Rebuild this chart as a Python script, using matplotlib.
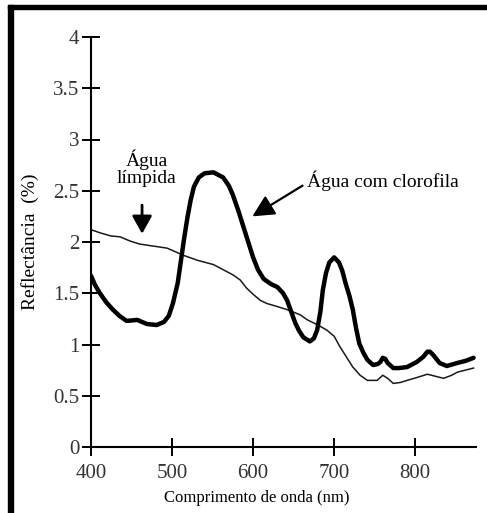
import matplotlib
matplotlib.use("Agg")
import matplotlib.pyplot as plt
from matplotlib.patches import Rectangle

# reflectance curves (wavelength nm, reflectance %)
clear_nm = [400, 411, 424, 436, 448, 460, 477, 494, 514, 532, 551, 563, 575, 584,
            592, 600, 609, 617, 630, 642, 658, 667, 680, 691, 700, 707, 715, 723,
            732, 741, 753, 760, 766, 773, 782, 790, 803, 815, 825, 835, 845, 852,
            862, 872]
clear_refl = [2.12, 2.09, 2.06, 2.05, 2.01, 1.98, 1.96, 1.94, 1.87, 1.82, 1.78, 1.73,
              1.68, 1.63, 1.55, 1.49, 1.43, 1.40, 1.37, 1.34, 1.29, 1.24, 1.19, 1.14,
              1.08, 0.98, 0.88, 0.78, 0.70, 0.65, 0.65, 0.70, 0.67, 0.62, 0.63, 0.65,
              0.68, 0.71, 0.69, 0.67, 0.70, 0.73, 0.75, 0.77]

chl_nm = [400, 405, 411, 419, 427, 435, 444, 457, 469, 481, 490, 496, 501, 507, 511,
          515, 519, 523, 527, 533, 540, 551, 563, 570, 575, 582, 588, 594, 600, 606,
          613, 622, 630, 637, 642, 647, 652, 657, 662, 670, 675, 679, 683, 686, 690,
          694, 700, 706, 710, 714, 719, 723, 727, 731, 736, 741, 748, 754, 757, 760,
          763, 766, 773, 780, 790, 802, 810, 815, 818, 822, 830, 839, 852, 862, 872]
chl_refl = [1.67, 1.58, 1.50, 1.41, 1.34, 1.28, 1.23, 1.24, 1.20, 1.19, 1.22, 1.28,
            1.40, 1.60, 1.82, 2.04, 2.24, 2.41, 2.54, 2.63, 2.67, 2.68, 2.63, 2.55,
            2.46, 2.30, 2.15, 2.00, 1.85, 1.73, 1.64, 1.59, 1.56, 1.50, 1.43, 1.32,
            1.21, 1.13, 1.07, 1.03, 1.06, 1.14, 1.32, 1.53, 1.70, 1.80, 1.85, 1.80,
            1.72, 1.60, 1.47, 1.34, 1.16, 1.01, 0.92, 0.85, 0.80, 0.81, 0.83, 0.87,
            0.86, 0.82, 0.77, 0.77, 0.78, 0.83, 0.88, 0.93, 0.93, 0.90, 0.82, 0.79,
            0.82, 0.84, 0.87]

x_ticks = [400, 500, 600, 700, 800]
y_ticks = [0, 0.5, 1, 1.5, 2, 2.5, 3, 3.5, 4]
y_tick_labels = ["0", "0.5", "1", "1.5", "2", "2.5", "3", "3.5", "4"]

plt.rcParams["font.family"] = ["Liberation Serif", "DejaVu Serif"]

W, H = 487, 513
fig = plt.figure(figsize=(W / 100, H / 100), dpi=100)
ax = fig.add_axes([91 / W, (H - 447) / H, (476 - 91) / W, (447 - 37) / H])

ax.plot(clear_nm, clear_refl, color="#1a1a1a", lw=1.1, solid_joinstyle="round")
ax.plot(chl_nm, chl_refl, color="black", lw=3.2, solid_joinstyle="round",
        solid_capstyle="round")

ax.set_xlim(400, 875)
ax.set_ylim(0, 4)
for side in ("top", "right"):
    ax.spines[side].set_visible(False)
for side in ("left", "bottom"):
    ax.spines[side].set_linewidth(1.5)
ax.spines["left"].set_bounds(0, 4)

ax.set_xticks(x_ticks)
ax.set_yticks(y_ticks)
ax.set_yticklabels(y_tick_labels)
ax.tick_params(direction="inout", length=13, width=1.4, colors="black",
               labelcolor="#333333")
ax.tick_params(axis="y", pad=2, labelsize=15)
ax.tick_params(axis="x", pad=6, labelsize=15)

ax.set_xlabel("Comprimento de onda (nm)", fontsize=12)
ax.xaxis.set_label_coords(0.43, -0.105)
ax.set_ylabel("Reflectância  (%)", fontsize=14)
ax.yaxis.set_label_coords(-0.135, 0.5)

# annotations
ax.text(469, 2.72, "Água\nlímpida", ha="center", va="center", fontsize=14,
        linespacing=1.0)
ax.annotate("", xy=(463, 2.08), xytext=(463, 2.36),
            arrowprops=dict(arrowstyle="-|>,head_length=0.9,head_width=0.5",
                            color="black", lw=2, mutation_scale=12,
                            shrinkA=0, shrinkB=0))
ax.text(667, 2.6, "Água com clorofila", ha="left", va="center", fontsize=14)
ax.annotate("", xy=(599, 2.25), xytext=(661, 2.55),
            arrowprops=dict(arrowstyle="-|>,head_length=1.1,head_width=0.55",
                            color="black", lw=1.6, mutation_scale=12,
                            shrinkA=0, shrinkB=0))

# black frame along the top and left edges
fig.patches.append(Rectangle((8 / W, 0), 5 / W, (H - 5) / H, transform=fig.transFigure,
                             color="black", zorder=0))
fig.patches.append(Rectangle((8 / W, (H - 9) / H), (W - 8) / W, 4 / H,
                             transform=fig.transFigure, color="black", zorder=0))

fig.savefig("out.png", dpi=100)
